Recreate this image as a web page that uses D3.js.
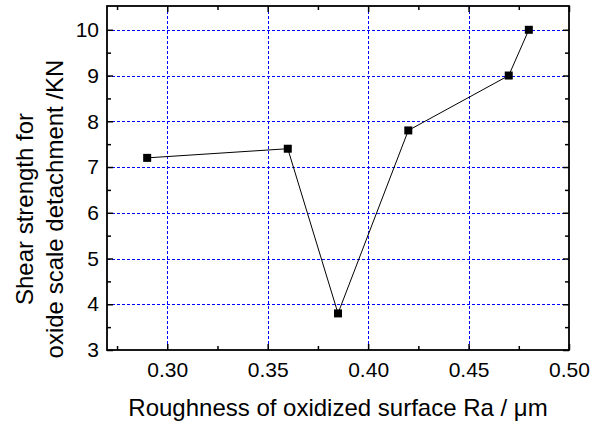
<!DOCTYPE html>
<html>
<head>
<meta charset="utf-8">
<script src="https://cdn.jsdelivr.net/npm/d3@7"></script>
<style>
  body { margin: 0; background: #fff; }
  text { font-family: "Liberation Sans", Arial, sans-serif; fill: #000; }
</style>
</head>
<body>
<div id="chart"></div>
<script>
var roughness = [0.29, 0.36, 0.385, 0.42, 0.47, 0.48];
var shear = [7.2, 7.4, 3.8, 7.8, 9.0, 10.0];
var xTicks = [0.30, 0.35, 0.40, 0.45, 0.50];
var yTicks = [3, 4, 5, 6, 7, 8, 9, 10];

var width = 595, height = 429;
var margin = {left: 107, right: 26, top: 6, bottom: 79};

var svg = d3.select("#chart").append("svg")
    .attr("width", width)
    .attr("height", height);

var x = d3.scaleLinear().domain([0.27, 0.50]).range([margin.left, width - margin.right]);
var y = d3.scaleLinear().domain([3, 10.52]).range([height - margin.bottom, margin.top]);

var x0 = x.range()[0], x1 = x.range()[1], y0 = y.range()[0], y1 = y.range()[1];

// grid
var grid = svg.append("g")
    .attr("stroke", "#0000ff").attr("stroke-width", 1)
    .attr("stroke-dasharray", "3,2").attr("shape-rendering", "crispEdges");
grid.selectAll(".gx").data(xTicks.filter(function(d) { return d < 0.5; }))
    .enter().append("line").attr("class", "gx")
    .attr("x1", function(d) { return Math.round(x(d)) + 0.5; }).attr("x2", function(d) { return Math.round(x(d)) + 0.5; })
    .attr("y1", y1).attr("y2", y0);
grid.selectAll(".gy").data(yTicks.filter(function(d) { return d > 3; }))
    .enter().append("line").attr("class", "gy")
    .attr("y1", function(d) { return Math.round(y(d)) + 0.5; }).attr("y2", function(d) { return Math.round(y(d)) + 0.5; })
    .attr("x1", x0).attr("x2", x1);

// axes, ticks pointing inward
var minorX = d3.range(0.275, 0.5, 0.05);
var minorY = d3.range(3.5, 10.5, 1);

function noDomain(g) { g.select(".domain").remove(); }

svg.append("g").attr("class", "ax").attr("transform", "translate(0," + y0 + ")")
    .call(d3.axisBottom(x).tickValues(xTicks).tickFormat(d3.format(".2f")).tickSizeInner(-6).tickSizeOuter(0).tickPadding(12))
    .call(noDomain);
svg.append("g").attr("transform", "translate(0," + y0 + ")")
    .call(d3.axisBottom(x).tickValues(minorX).tickFormat("").tickSizeInner(-4).tickSizeOuter(0))
    .call(noDomain);
svg.append("g").attr("transform", "translate(0," + y1 + ")")
    .call(d3.axisTop(x).tickValues(xTicks).tickFormat("").tickSizeInner(-6).tickSizeOuter(0))
    .call(noDomain);
svg.append("g").attr("transform", "translate(0," + y1 + ")")
    .call(d3.axisTop(x).tickValues(minorX).tickFormat("").tickSizeInner(-4).tickSizeOuter(0))
    .call(noDomain);

svg.append("g").attr("class", "ax").attr("transform", "translate(" + x0 + ",0)")
    .call(d3.axisLeft(y).tickValues(yTicks).tickFormat(d3.format("d")).tickSizeInner(-6).tickSizeOuter(0).tickPadding(8))
    .call(noDomain);
svg.append("g").attr("transform", "translate(" + x0 + ",0)")
    .call(d3.axisLeft(y).tickValues(minorY).tickFormat("").tickSizeInner(-4).tickSizeOuter(0))
    .call(noDomain);
svg.append("g").attr("transform", "translate(" + x1 + ",0)")
    .call(d3.axisRight(y).tickValues(yTicks).tickFormat("").tickSizeInner(-6).tickSizeOuter(0))
    .call(noDomain);
svg.append("g").attr("transform", "translate(" + x1 + ",0)")
    .call(d3.axisRight(y).tickValues(minorY).tickFormat("").tickSizeInner(-4).tickSizeOuter(0))
    .call(noDomain);

svg.selectAll(".tick line").attr("stroke", "#000").attr("stroke-width", 1.5);
svg.selectAll(".ax").attr("font-size", 21).attr("font-family", "Liberation Sans, Arial, sans-serif");

// frame
svg.append("rect")
    .attr("x", x0).attr("y", y1)
    .attr("width", x1 - x0).attr("height", y0 - y1)
    .attr("fill", "none").attr("stroke", "#000").attr("stroke-width", 1.8);

// data line + markers
var pts = roughness.map(function(d, i) { return [d, shear[i]]; });
svg.append("path")
    .datum(pts)
    .attr("fill", "none").attr("stroke", "#000").attr("stroke-width", 1)
    .attr("d", d3.line().x(function(d) { return x(d[0]); }).y(function(d) { return y(d[1]); }));
svg.selectAll(".pt").data(pts).enter().append("rect")
    .attr("x", function(d) { return x(d[0]) - 4; })
    .attr("y", function(d) { return y(d[1]) - 4; })
    .attr("width", 8).attr("height", 8)
    .attr("fill", "#000");

// axis titles
svg.append("text")
    .attr("x", (x0 + x1) / 2).attr("y", 416)
    .attr("text-anchor", "middle")
    .style("font-size", "24px")
    .text("Roughness of oxidized surface Ra / μm");

var yt = svg.append("text")
    .attr("transform", "translate(0,209) rotate(-90)")
    .attr("text-anchor", "middle")
    .style("font-size", "24px");
yt.append("tspan").attr("x", 0).attr("y", 33).text("Shear strength for");
yt.append("tspan").attr("x", 0).attr("y", 63).text("oxide scale detachment /KN");
</script>
</body>
</html>
